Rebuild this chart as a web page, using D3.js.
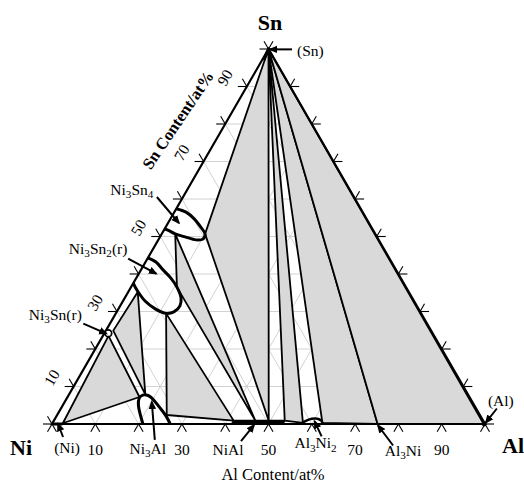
<!DOCTYPE html>
<html><head><meta charset="utf-8">
<script src="https://cdn.jsdelivr.net/npm/d3@7"></script>
<style>body{margin:0;background:#fff}svg{display:block}</style>
</head><body>
<script>
// ---------- data (compositions in at%: [Al, Sn]) ----------
const gridValues = [10,20,30,40,50,60,70,80,90];
const tickValues = [0,10,20,30,40,50,60,70,80,90,100];
const sideLabels = [10,30,50,70,90];
const cornerNames = ["Ni","Al","Sn"];
const cornerComps = [[0,0],[100,0],[0,100]];
const axisTitles = ["Al Content/at%","Sn Content/at%"];

const phaseNi3Sn4 = [[0,57.4],[2.7,56.5],[5.5,54.7],[8.1,52.5],[10.0,50.7],[10.2,49.3],[8.7,49.1],[5.8,49.9],[3.1,50.7],[0.9,51.7],[0,52.0]];
const phaseNi3Sn2 = [[0,44.3],[2.4,43.2],[5.1,41.1],[8.0,38.9],[10.6,36.5],[13.0,33.6],[13.8,31.5],[13.2,29.9],[11.6,29.5],[8.5,30.7],[5.1,32.8],[2.3,35.2],[0.4,37.1],[0,37.6]];
const phaseNi3Al  = [[21.0,0],[17.4,5.1],[16.7,6.9],[17.1,7.7],[18.4,7.6],[19.6,6.9],[22.8,4.3],[25.3,2.1],[27.3,0]];
const phaseNiAl   = [[41.5,0.3],[41.5,0.9],[53.3,0.9],[53.3,0.3]];
const phaseAl3Ni2 = [[57.6,0.2],[58.3,0.9],[59.3,1.4],[60.6,1.4],[61.7,0.9],[62.4,0.2]];
const phaseNi     = [[0,0],[2.4,0]];
const phaseNi3Sn  = [0.9,24.2];

// three-phase triangles
const threePhase = [
  [[2.4,0.2],[1.3,23.5],[16.6,7.2]],     // (Ni)+Ni3Sn+Ni3Al
  [[1.7,24.9],[2.2,35.2],[17.6,7.9]],    // Ni3Sn+Ni3Sn2+Ni3Al
  [[11.6,29.5],[25.3,2.4],[41.5,0.9]],   // Ni3Sn2+Ni3Al+NiAl
  [[3.1,50.7],[10.6,36.5],[46.5,0.9]],   // Ni3Sn4+Ni3Sn2+NiAl
  [[0,100],[10.0,50.7],[49.6,0.9]],      // (Sn)+Ni3Sn4+NiAl
  [[0,100],[53.3,0.9],[57.8,0.3]],       // (Sn)+NiAl+Al3Ni2
  [[0,100],[62.3,0.3],[75.2,0]],         // (Sn)+Al3Ni2+Al3Ni
  [[0,100],[75.2,0],[99.7,0]]            // (Sn)+Al3Ni+(Al)
];

const annoTexts   = ["(Sn)","Ni3Sn4","Ni3Sn2(r)","Ni3Sn(r)","(Ni)","Ni3Al","NiAl","Al3Ni2","Al3Ni","(Al)"];
const annoTargets = [[0.4,99.9],[2.5,53.6],[4.0,40.1],[0.5,24.1],[1.4,0],[20.1,5.9],[46.8,-0.3],[60.3,0.7],[75.5,-0.4],[100,0.4]];

// ---------- layout ----------
const annoLayout = [ // [tailDx, tailDy, labelDx, labelDy, anchor]
  [22,0,27,2,"start"],[-22,-26,-47,-33,"middle"],[-28,-15,-58,-25,"middle"],[-23,-10,-51,-19,"middle"],
  [5,13,9,24,"middle"],[3,38,-4,47,"middle"],[-13,16,-26,25,"middle"],[7,15,1,22,"middle"],
  [15,20,25,25,"middle"],[11,-14,15,-22,"middle"]
];

const W = 524, H = 491;
const X = d3.scaleLinear().domain([0,100]).range([52,485]);
const Y = d3.scaleLinear().domain([0,100]).range([424,49]);
const P = c => [X(c[0] + c[1]/2), Y(c[1])];
const line = d3.line();
const FONT = "'Liberation Serif','Times New Roman',serif";

const svg = d3.select("body").append("svg").attr("width",W).attr("height",H)
  .style("font-family",FONT);
svg.append("rect").attr("width",W).attr("height",H).attr("fill","#fff");

const defs = svg.append("defs");
defs.append("marker").attr("id","ah").attr("viewBox","0 0 10 10").attr("refX",8).attr("refY",5)
  .attr("markerWidth",9).attr("markerHeight",9).attr("markerUnits","userSpaceOnUse").attr("orient","auto")
  .append("path").attr("d","M0,0.8L10,5L0,9.2Z").attr("fill","#000");

// grid
const grid = svg.append("g").attr("stroke","#cdcdcd").attr("stroke-width",0.9).attr("fill","none");
gridValues.forEach(v => {
  grid.append("path").attr("d", line([P([0,v]),P([100-v,v])]));
  grid.append("path").attr("d", line([P([v,0]),P([v,100-v])]));
  grid.append("path").attr("d", line([P([100-v,0]),P([0,100-v])]));
});

// three-phase fills
svg.append("g").selectAll("path").data(threePhase).join("path")
  .attr("d", d => line(d.map(P)) + "Z")
  .attr("fill","#d9d9d9").attr("stroke","#000").attr("stroke-width",1.8).attr("stroke-linejoin","round");

// outer triangle
svg.append("path").attr("d", line(cornerComps.map(P)) + "Z")
  .attr("fill","none").attr("stroke","#000").attr("stroke-width",2.2);

// ticks
const tickLen = 9;
const tg = svg.append("g").attr("stroke","#000").attr("stroke-width",1.1);
const s3 = Math.sqrt(3)/2;
function tick(pt, dirs){ dirs.forEach(d => tg.append("line").attr("x1",pt[0]).attr("y1",pt[1])
  .attr("x2",pt[0]+d[0]*tickLen).attr("y2",pt[1]+d[1]*tickLen)); }
tickValues.forEach(v => {
  tick(P([0,v]), [[-1,0],[-0.5,-s3]]);
  tick(P([100-v,v]), [[1,0],[0.5,-s3]]);
  tick(P([v,0]), [[-0.5,s3],[0.5,s3]]);
});

// single phase regions
const ph = svg.append("g").attr("fill","none").attr("stroke","#000").attr("stroke-linejoin","round");
const curve = d3.line().curve(d3.curveCatmullRom.alpha(0.5));
ph.append("path").attr("d", curve(phaseNi3Sn4.map(P))).attr("stroke-width",3);
ph.append("path").attr("d", curve(phaseNi3Sn2.map(P))).attr("stroke-width",3);
ph.append("path").attr("d", curve(phaseNi3Al.map(P))).attr("stroke-width",3);
ph.append("path").attr("d", line(phaseNiAl.map(P)) + "Z").attr("stroke-width",1.6).attr("fill","#000");
ph.append("path").attr("d", curve(phaseAl3Ni2.map(P))).attr("stroke-width",2.4);
ph.append("path").attr("d", line(phaseNi.map(P))).attr("stroke-width",3);
ph.append("circle").attr("cx",P(phaseNi3Sn)[0]).attr("cy",P(phaseNi3Sn)[1]).attr("r",3.4)
  .attr("fill","#fff").attr("stroke-width",1.7);
ph.append("path").attr("d", line([P([0,100]),P([0.4,97])])).attr("stroke-width",3);
ph.append("circle").attr("cx",P([99.8,0])[0]).attr("cy",P([99.8,0])[1]).attr("r",2).attr("fill","#000");

// rich text with subscripts
function rich(g, str, size){
  const parts = str.match(/\d+|\D+/g);
  let sub = false;
  parts.forEach(p => {
    const isNum = /^\d+$/.test(p);
    const t = g.append("tspan").text(p);
    if (isNum && !sub){ t.attr("font-size", size*0.72).attr("dy", size*0.22); sub = true; }
    else if (!isNum && sub){ t.attr("dy", -size*0.22); sub = false; }
  });
}

// annotations
const ag = svg.append("g");
annoTexts.forEach((txt,i) => {
  const tip = P(annoTargets[i]);
  const L = annoLayout[i];
  ag.append("line").attr("x1",tip[0]+L[0]).attr("y1",tip[1]+L[1]).attr("x2",tip[0]).attr("y2",tip[1])
    .attr("stroke","#000").attr("stroke-width",2).attr("marker-end","url(#ah)");
  const t = ag.append("text").attr("x",tip[0]+L[2]).attr("y",tip[1]+L[3]+5)
    .attr("text-anchor",L[4]).attr("font-size",15.5);
  rich(t, txt, 15.5);
});

// bottom labels
svg.append("g").selectAll("text").data(sideLabels).join("text")
  .attr("x", v => X(v)).attr("y", 455).attr("text-anchor","middle").attr("font-size",15.5).text(v => v);
// left labels
svg.append("g").selectAll("text").data(sideLabels).join("text")
  .attr("transform", v => { const p = P([0,v]); return `translate(${p[0]-22},${p[1]-9}) rotate(-60)`; })
  .attr("text-anchor","middle").attr("dominant-baseline","central").attr("font-size",15.5).text(v => v);

// corner names
const cornerPos = [[21,455],[513,453],[270,30]];
svg.append("g").selectAll("text").data(cornerNames).join("text")
  .attr("x",(d,i)=>cornerPos[i][0]).attr("y",(d,i)=>cornerPos[i][1]).attr("text-anchor","middle")
  .attr("font-size",22).attr("font-weight","bold").text(d=>d);

// axis titles
svg.append("text").attr("x",273).attr("y",480).attr("text-anchor","middle").attr("font-size",16.5).text(axisTitles[0]);
svg.append("text").attr("transform","translate(178,120) rotate(-56)").attr("text-anchor","middle")
  .attr("dominant-baseline","central").attr("font-size",16.5).attr("font-weight","bold").text(axisTitles[1]);
</script>
</body></html>
